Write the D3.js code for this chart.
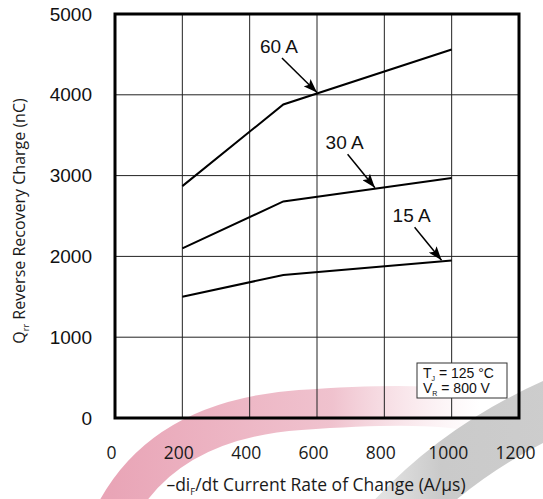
<!DOCTYPE html>
<html>
<head>
<meta charset="utf-8">
<script src="https://cdn.jsdelivr.net/npm/d3@7"></script>
<style>
 body { margin: 0; background: #fff; }
 svg { display: block; font-family: "Liberation Sans", Arial, sans-serif; }
</style>
</head>
<body>
<div id="chart"></div>
<script>
// data
const rates = [200, 500, 1000];
const q15 = [1500, 1770, 1950];
const q30 = [2100, 2680, 2970];
const q60 = [2870, 3880, 4560];
const seriesNames = ["15 A", "30 A", "60 A"];
const xTicks = [0, 200, 400, 600, 800, 1000, 1200];
const yTicks = [0, 1000, 2000, 3000, 4000, 5000];
// label positions in data units: [text x, text baseline y, arrow tip x]
const labelAt = {
  "60 A": [487, 4517, 600],
  "30 A": [682, 3325, 772],
  "15 A": [881, 2422, 970]
};

const width = 543, height = 499;
const marginTop = 14, marginRight = 24, marginBottom = 81, marginLeft = 115;

const x = d3.scaleLinear().domain([0, 1200]).range([marginLeft, width - marginRight]);
const y = d3.scaleLinear().domain([0, 5000]).range([height - marginBottom, marginTop]);

const svg = d3.select("#chart").append("svg")
  .attr("width", width).attr("height", height)
  .attr("viewBox", [0, 0, width, height]);

// watermark swooshes behind everything
const defs = svg.append("defs");
const grad = defs.append("linearGradient").attr("id", "pinkfade").attr("x1", 0).attr("x2", 1);
grad.append("stop").attr("offset", "0%").attr("stop-color", "#e595aa").attr("stop-opacity", 0.85);
grad.append("stop").attr("offset", "60%").attr("stop-color", "#e9a8b9").attr("stop-opacity", 0.7);
grad.append("stop").attr("offset", "100%").attr("stop-color", "#f3cdd6").attr("stop-opacity", 0);
svg.append("path")
  .attr("d", "M112,520 Q160,420 300,410 T480,414")
  .attr("fill", "none").attr("stroke", "url(#pinkfade)").attr("stroke-width", 40);
const grad2 = defs.append("linearGradient").attr("id", "grayfade").attr("x1", 0).attr("x2", 1);
grad2.append("stop").attr("offset", "0%").attr("stop-color", "#c4c4c4").attr("stop-opacity", 0.5);
grad2.append("stop").attr("offset", "30%").attr("stop-color", "#c4c4c4").attr("stop-opacity", 0.9);
grad2.append("stop").attr("offset", "100%").attr("stop-color", "#c8c8c8").attr("stop-opacity", 0.9);
svg.append("path")
  .attr("d", "M385,530 Q460,445 570,400")
  .attr("fill", "none").attr("stroke", "url(#grayfade)").attr("stroke-width", 56);

// grid
const grid = svg.append("g").attr("stroke", "#222").attr("stroke-width", 1);
grid.selectAll(".gx").data(xTicks.slice(1, -1)).join("line")
  .attr("x1", d => x(d)).attr("x2", d => x(d))
  .attr("y1", y(0)).attr("y2", y(5000));
grid.selectAll(".gy").data(yTicks.slice(1, -1)).join("line")
  .attr("x1", x(0)).attr("x2", x(1200))
  .attr("y1", d => y(d)).attr("y2", d => y(d));

// axes (labels only)
svg.append("g")
  .attr("transform", `translate(-4,${y(0)})`)
  .call(d3.axisBottom(x).tickValues(xTicks).tickSize(0).tickPadding(29).tickFormat(d3.format("d")))
  .call(g => g.select(".domain").remove())
  .call(g => g.selectAll("text").attr("font-size", 17.5).attr("fill", "#1a1a1a")
    .attr("font-family", "'Open Sans', sans-serif"));
svg.append("g")
  .attr("transform", `translate(${x(0)},0)`)
  .call(d3.axisLeft(y).tickValues(yTicks).tickSize(0).tickPadding(23).tickFormat(d3.format("d")))
  .call(g => g.select(".domain").remove())
  .call(g => g.selectAll("text").attr("font-size", 19).attr("fill", "#111")
    .attr("font-family", "'Liberation Sans', Arial, sans-serif"));

// curves
const line = d3.line().x((d, i) => x(rates[i])).y(d => y(d));
svg.selectAll(".curve").data([q15, q30, q60]).join("path")
  .attr("fill", "none").attr("stroke", "#000").attr("stroke-width", 2)
  .attr("d", line);

// labels with arrows
defs.append("marker").attr("id", "arr")
  .attr("viewBox", "0 0 14 10").attr("refX", 14).attr("refY", 5)
  .attr("markerWidth", 14).attr("markerHeight", 10).attr("markerUnits", "userSpaceOnUse")
  .attr("orient", "auto")
  .append("path").attr("d", "M0,0 L14,5 L0,10 L3,5 Z").attr("fill", "#000");

const curves = { "15 A": q15, "30 A": q30, "60 A": q60 };
function valueAt(arr, r) {
  return d3.scaleLinear().domain(rates).range(arr)(r);
}
seriesNames.forEach(name => {
  const [tx, ty, ax] = labelAt[name];
  const tipY = y(valueAt(curves[name], ax));
  svg.append("text")
    .attr("x", x(tx)).attr("y", y(ty))
    .attr("text-anchor", "middle").attr("font-size", 19).attr("fill", "#111")
    .text(name);
  svg.append("line")
    .attr("x1", x(tx) + 3).attr("y1", y(ty) + 5)
    .attr("x2", x(ax)).attr("y2", tipY - 1)
    .attr("stroke", "#000").attr("stroke-width", 1.5)
    .attr("marker-end", "url(#arr)");
});

// frame
svg.append("rect")
  .attr("x", x(0)).attr("y", y(5000))
  .attr("width", x(1200) - x(0)).attr("height", y(0) - y(5000))
  .attr("fill", "none").attr("stroke", "#000").attr("stroke-width", 3);

// condition box
const box = svg.append("g").attr("transform", `translate(${x(1200) - 102},${y(0) - 55})`);
box.append("rect").attr("width", 90).attr("height", 35)
  .attr("fill", "#fff").attr("stroke", "#333").attr("stroke-width", 1);
const t1 = box.append("text").attr("x", 6).attr("y", 15).attr("font-size", 14).attr("fill", "#111");
t1.append("tspan").text("T");
t1.append("tspan").attr("font-size", 7).attr("dy", 3).text("J");
t1.append("tspan").attr("dy", -3).text(" = 125 °C");
const t2 = box.append("text").attr("x", 6).attr("y", 30).attr("font-size", 14).attr("fill", "#111");
t2.append("tspan").text("V");
t2.append("tspan").attr("font-size", 7).attr("dy", 3).text("R");
t2.append("tspan").attr("dy", -3).text(" = 800 V");

// axis titles
const xt = svg.append("text")
  .attr("x", 316).attr("y", 491).attr("text-anchor", "middle")
  .attr("font-family", "'Open Sans', sans-serif").attr("font-size", 17.5).attr("fill", "#1a1a1a");
xt.append("tspan").text("–di");
xt.append("tspan").attr("font-size", 9.5).attr("dy", 4).text("F");
xt.append("tspan").attr("dy", -4).text("/dt Current Rate of Change (A/μs)");

const yt = svg.append("text")
  .attr("transform", `translate(25,221) rotate(-90)`)
  .attr("text-anchor", "middle")
  .attr("font-family", "'Open Sans', sans-serif").attr("font-size", 16).attr("fill", "#1a1a1a");
yt.append("tspan").text("Q");
yt.append("tspan").attr("font-size", 9).attr("dy", 4).text("rr");
yt.append("tspan").attr("dy", -4).text(" Reverse Recovery Charge (nC)");
</script>
</body>
</html>
